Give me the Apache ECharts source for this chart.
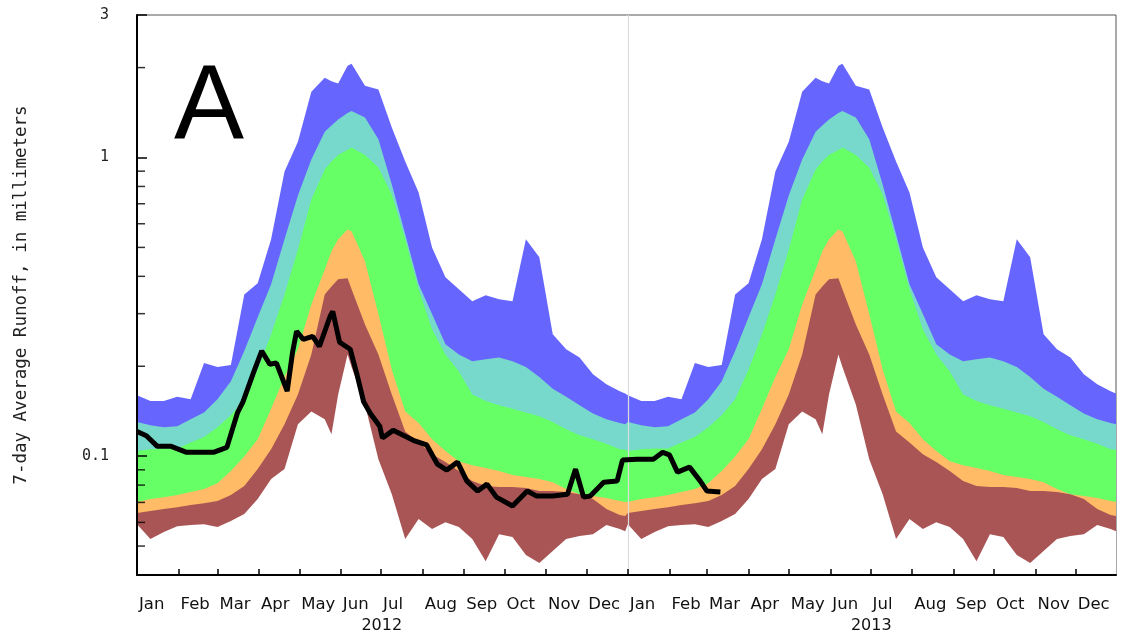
<!DOCTYPE html>
<html>
<head>
<meta charset="utf-8">
<script src="https://cdn.jsdelivr.net/npm/echarts@6/dist/echarts.min.js"></script>
<style>
html,body{margin:0;padding:0;background:#fff;}
#chart{width:1121px;height:638px;}
</style>
</head>
<body>
<div id="chart"></div>
<script>
// ---- data ----
const monthNames = ['Jan','Feb','Mar','Apr','May','Jun','Jul','Aug','Sep','Oct','Nov','Dec'];
const yearLabels = ['2012','2013'];
const yTickLabels = [0.1, 1, 3];
const yMinorTicks = [0.05,0.06,0.07,0.08,0.09,0.2,0.3,0.4,0.5,0.6,0.7,0.8,0.9,2];

// day-of-year sample positions for the daily percentile climatology
const doy = [0,10,20,30,40,50,60,70,80,90,100,110,120,130,140,145,150,157,160,170,180,190,200,210,220,230,240,250,260,270,280,290,300,310,320,330,340,350,360,364];
// maximum
const maxVals = [0.160,0.153,0.153,0.158,0.155,0.205,0.199,0.202,0.348,0.379,0.532,0.898,1.13,1.66,1.85,1.80,1.77,2.03,2.06,1.74,1.69,1.26,0.970,0.764,0.500,0.397,0.362,0.330,0.346,0.335,0.330,0.532,0.463,0.256,0.228,0.214,0.188,0.174,0.165,0.162];
// 90th percentile
const p90Vals = [0.130,0.127,0.125,0.126,0.133,0.140,0.155,0.178,0.225,0.292,0.376,0.532,0.746,0.985,1.22,1.28,1.34,1.41,1.43,1.36,1.15,0.812,0.553,0.376,0.299,0.237,0.219,0.208,0.211,0.214,0.208,0.199,0.184,0.168,0.158,0.148,0.139,0.133,0.129,0.128];
// 75th percentile
const p75Vals = [0.104,0.1055,0.106,0.106,0.111,0.116,0.125,0.137,0.155,0.195,0.256,0.348,0.492,0.724,0.912,0.970,1.02,1.06,1.08,1.02,0.926,0.752,0.532,0.362,0.266,0.219,0.192,0.161,0.153,0.148,0.144,0.140,0.136,0.130,0.123,0.1175,0.114,0.110,0.1055,0.105];
// 25th percentile
const p25Vals = [0.0702,0.0718,0.0729,0.0741,0.0758,0.0776,0.0812,0.0891,0.0997,0.114,0.144,0.184,0.228,0.322,0.422,0.485,0.532,0.574,0.566,0.449,0.299,0.195,0.141,0.129,0.114,0.104,0.0962,0.0933,0.0912,0.0891,0.0864,0.0851,0.0838,0.0818,0.0776,0.0746,0.0735,0.0724,0.0707,0.0702];
// 10th percentile
const p10Vals = [0.0645,0.0655,0.0665,0.0675,0.0686,0.0696,0.0707,0.0741,0.0794,0.0905,0.1055,0.128,0.161,0.219,0.348,0.370,0.391,0.394,0.362,0.276,0.219,0.161,0.121,0.111,0.1015,0.0955,0.0891,0.0825,0.0794,0.0788,0.0788,0.0782,0.0764,0.0764,0.0758,0.0746,0.0718,0.0665,0.0635,0.0630];
// minimum
const minVals = [0.0592,0.0528,0.0557,0.0583,0.0588,0.0592,0.0579,0.0606,0.0640,0.0718,0.0838,0.0905,0.128,0.141,0.133,0.1185,0.161,0.219,0.199,0.149,0.0977,0.0746,0.0528,0.0616,0.0570,0.0601,0.0579,0.0528,0.0445,0.0548,0.0536,0.0467,0.0439,0.0481,0.0528,0.0540,0.0548,0.0588,0.0570,0.0561];

// observed 7-day runoff (day index from 2012-01-01)
const obsDay = [0,7,15,25,37,57,67,75,79,87,93,99,104,112,116,119,124,131,136,144,146,151,159,164,169,174,181,183,191,206,216,224,231,239,246,254,261,268,280,291,298,310,321,327,333,338,348,358,362,373,385,392,397,403,412,420,425,435];
const obsVals = [0.121,0.117,0.108,0.108,0.103,0.103,0.107,0.140,0.152,0.191,0.225,0.203,0.205,0.165,0.223,0.262,0.246,0.252,0.233,0.294,0.305,0.241,0.228,0.188,0.152,0.139,0.126,0.115,0.122,0.113,0.109,0.094,0.0898,0.0955,0.0825,0.0764,0.0806,0.0729,0.0681,0.0764,0.0735,0.0735,0.0746,0.0905,0.0729,0.0735,0.0818,0.0825,0.0970,0.0977,0.0977,0.103,0.101,0.0884,0.0919,0.0825,0.0764,0.0758];

const yearStartIndex = [0, 366];

// ---- build categories (daily) ----
const days = [];
const isMonthStart = [];
const monthOf = [];
const t0 = Date.UTC(2012, 0, 1);
for (let i = 0; i < 731; i++) {
  const d = new Date(t0 + i * 86400000);
  days.push(d.toISOString().slice(0, 10));
  isMonthStart.push(d.getUTCDate() === 1);
  monthOf.push(d.getUTCMonth());
}

function bandData(vals) {
  const out = [];
  yearStartIndex.forEach(function (off) {
    doy.forEach(function (d, i) {
      const idx = d + off;
      if (idx <= 730) out.push([idx, vals[i]]);
    });
  });
  return out;
}

function areaSeries(name, vals, color, extra) {
  return Object.assign({
    name: name,
    type: 'line',
    data: bandData(vals),
    showSymbol: false,
    symbol: 'none',
    silent: true,
    lineStyle: { width: 0, color: color },
    itemStyle: { color: color },
    areaStyle: { color: color, opacity: 1, origin: 'start' },
    animation: false
  }, extra || {});
}

const chart = echarts.init(document.getElementById('chart'), null, { renderer: 'canvas' });

const option = {
  animation: false,
  grid: {
    left: 137, top: 15, right: 5, bottom: 63,
    show: true, borderColor: '#555', borderWidth: 1, backgroundColor: '#fff'
  },
  xAxis: [
    {
      type: 'category',
      data: days,
      boundaryGap: false,
      z: 10,
      axisLine: { show: true, lineStyle: { color: '#000', width: 2 } },
      axisTick: {
        show: true, inside: true, length: 6,
        interval: function (index) { return isMonthStart[index]; },
        lineStyle: { color: '#000', width: 1.5 }
      },
      axisLabel: {
        show: true,
        interval: function (index) { return isMonthStart[index]; },
        formatter: function (value, index) { return monthNames[monthOf[index]]; },
        align: 'left',
        padding: [0, 0, 0, 2],
        margin: 21,
        fontFamily: 'DejaVu Sans',
        fontSize: 16.5,
        color: '#111'
      },
      splitLine: { show: false }
    },
    {
      type: 'category',
      data: yearLabels,
      position: 'bottom',
      boundaryGap: true,
      axisLine: { show: false },
      axisTick: { show: false },
      axisLabel: { margin: 43, fontFamily: 'DejaVu Sans', fontSize: 16, color: '#111' },
      splitLine: { show: false }
    }
  ],
  yAxis: {
    type: 'log',
    logBase: 10,
    min: 0.04,
    max: 3,
    z: 10,
    name: '7-day Average Runoff, in millimeters',
    nameLocation: 'middle',
    nameRotate: 90,
    nameGap: 107,
    nameTextStyle: { fontFamily: 'DejaVu Sans Mono', fontSize: 17.5, color: '#222' },
    axisLine: { show: true, lineStyle: { color: '#000', width: 2 } },
    axisTick: { show: true, inside: true, length: 10, lineStyle: { color: '#000', width: 1.5 } },
    axisLabel: {
      margin: 28,
      fontFamily: 'DejaVu Sans Mono',
      fontSize: 15,
      color: '#222',
      formatter: function (v) {
        for (let k = 0; k < yTickLabels.length; k++) {
          if (Math.abs(v - yTickLabels[k]) < 1e-6 * yTickLabels[k]) return String(yTickLabels[k]);
        }
        return '';
      }
    },
    splitLine: { show: false },
    minorTick: { show: false }
  },
  series: [
    areaSeries('Maximum', maxVals, '#6666ff'),
    areaSeries('90th', p90Vals, '#77d8cc'),
    areaSeries('75th', p75Vals, '#66ff66'),
    areaSeries('25th', p25Vals, '#ffbb66'),
    areaSeries('10th', p10Vals, '#aa5555'),
    areaSeries('Minimum', minVals, '#ffffff', {
      markLine: {
        silent: true,
        symbol: 'none',
        label: { show: false },
        lineStyle: { color: '#dcdcdc', width: 1.2, type: 'solid' },
        data: [{ xAxis: yearStartIndex[1] }],
        animation: false
      }
    }),
    {
      name: 'Observed',
      type: 'line',
      data: obsDay.map(function (d, i) { return [d, obsVals[i]]; }),
      showSymbol: false,
      symbol: 'none',
      lineStyle: { color: '#000', width: 5 },
      z: 6,
      silent: true
    },
    {
      name: 'minor ticks',
      type: 'scatter',
      data: yMinorTicks.map(function (v) { return [0, v]; }),
      symbol: 'rect',
      symbolSize: [7, 1.5],
      symbolOffset: [4.5, 0],
      itemStyle: { color: '#000' },
      z: 12,
      silent: true,
      clip: false
    }
  ],
  graphic: [
    {
      type: 'text',
      left: 174,
      top: 57,
      z: 20,
      style: {
        text: 'A',
        font: '105px "Liberation Sans", Arial, sans-serif',
        fill: '#000'
      }
    }
  ]
};

chart.setOption(option);
</script>
</body>
</html>
